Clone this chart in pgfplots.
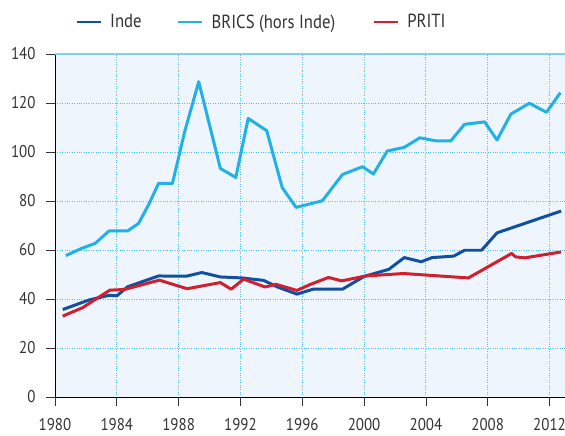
\documentclass[border=0pt]{standalone}
\usepackage{pgfplots}
\pgfplotsset{compat=1.18}
\usepackage{fontspec}
\setmainfont{PT Sans}[FakeStretch=0.88]
\definecolor{inde}{HTML}{1150A0}
\definecolor{brics}{HTML}{22B1E5}
\definecolor{priti}{HTML}{D01F2E}
\definecolor{bgblue}{HTML}{EEF5FC}
\definecolor{gridblue}{HTML}{4CC2EE}
\definecolor{topblue}{HTML}{7FD0F2}
\definecolor{txt}{HTML}{333333}
\begin{document}
\begin{tikzpicture}
\useasboundingbox (-55bp,-39bp) rectangle (510bp,397bp);
\begin{axis}[
  scale only axis, width=510bp, height=343bp, at={(0,0)}, anchor=south west,
  xmin=1980, xmax=2013, ymin=0, ymax=140,
  xtick={1980,1984,...,2012}, ytick={0,20,...,140},
  axis x line*=bottom, axis y line*=left,
  axis line style={line width=0.8pt, black},
  axis background/.style={fill=bgblue},
  xmajorgrids, ymajorgrids,
  grid style={dotted, gridblue, line width=0.9pt},
  tick align=outside, major tick length=9bp,
  tick style={line width=0.8pt, black!80},
  font=\fontsize{17bp}{20bp}\selectfont,
  tick label style={text=txt},
  /pgf/number format/assume math mode=true,
  /pgf/number format/1000 sep={},
  xticklabel style={yshift=-9bp},
  yticklabel style={xshift=-7bp},
  legend style={at={(axis description cs:0,1)}, anchor=west, xshift=20bp, yshift=32bp,
    draw=none, fill=none, inner sep=0pt, text=txt,
    legend columns=-1, font=\fontsize{19bp}{22bp}\selectfont,
    /tikz/every even column/.append style={column sep=0bp},
    /tikz/every odd column/.append style={column sep=0bp}},
  legend image code/.code={\draw[line width=3pt] (0bp,0bp) -- (24bp,0bp);},
  every axis plot/.append style={line width=3pt, line join=round},
  clip=false,
]
\addplot[inde, no marks] coordinates {
(1980.5,35.7) (1982.2,39.6) (1983.5,41.5) (1984.0,41.3) (1984.7,45.0) (1986.7,49.4)
(1988.5,49.3) (1989.5,50.8) (1990.7,49.0) (1992.1,48.6) (1993.5,47.6) (1994.4,44.9)
(1995.65,42.0) (1996.7,44.0) (1998.6,44.0) (2000.0,49.2) (2001.6,52.1) (2002.6,56.9)
(2003.7,55.2) (2004.4,56.9) (2005.8,57.5) (2006.5,59.9) (2007.6,59.9) (2008.6,67.0)
(2012.75,75.9)};
\addlegendentry{\kern6bp Inde\kern33bp}
\addplot[brics, no marks] coordinates {
(1980.7,57.7) (1981.7,60.6) (1982.6,62.7) (1983.5,67.8) (1984.7,67.8) (1985.4,70.8)
(1986.1,79.0) (1986.7,87.2) (1987.6,87.2) (1988.4,108.5) (1989.3,128.7) (1990.7,93.3)
(1991.7,89.6) (1992.5,113.7) (1993.7,108.7) (1994.7,85.5) (1995.6,77.4) (1997.3,80.1)
(1998.6,90.8) (1999.9,94.0) (2000.6,91.0) (2001.5,100.4) (2002.6,101.9) (2003.6,105.8)
(2004.7,104.5) (2005.6,104.5) (2006.5,111.3) (2007.8,112.3) (2008.6,104.9) (2009.5,115.5)
(2010.7,119.9) (2011.8,116.2) (2012.7,124.2)};
\addlegendentry{\kern6bp BRICS (hors Inde)\kern35bp}
\addplot[priti, no marks] coordinates {
(1980.5,33.0) (1981.8,36.5) (1982.7,40.2) (1983.55,43.6) (1984.5,43.9) (1986.75,47.7)
(1988.55,44.2) (1990.7,46.7) (1991.4,44.0) (1992.2,48.1) (1993.6,44.9) (1994.3,46.0)
(1995.65,43.5) (1996.5,45.9) (1997.7,48.8) (1998.55,47.4) (2000.1,49.4) (2002.55,50.4)
(2006.75,48.6) (2009.55,58.6) (2009.8,57.2) (2010.4,56.8) (2012.75,59.2)};
\addlegendentry{\kern6bp PRITI}
\draw[topblue, line width=1.5pt] (rel axis cs:0,1) -- (rel axis cs:1,1);
\end{axis}
\end{tikzpicture}
\end{document}
